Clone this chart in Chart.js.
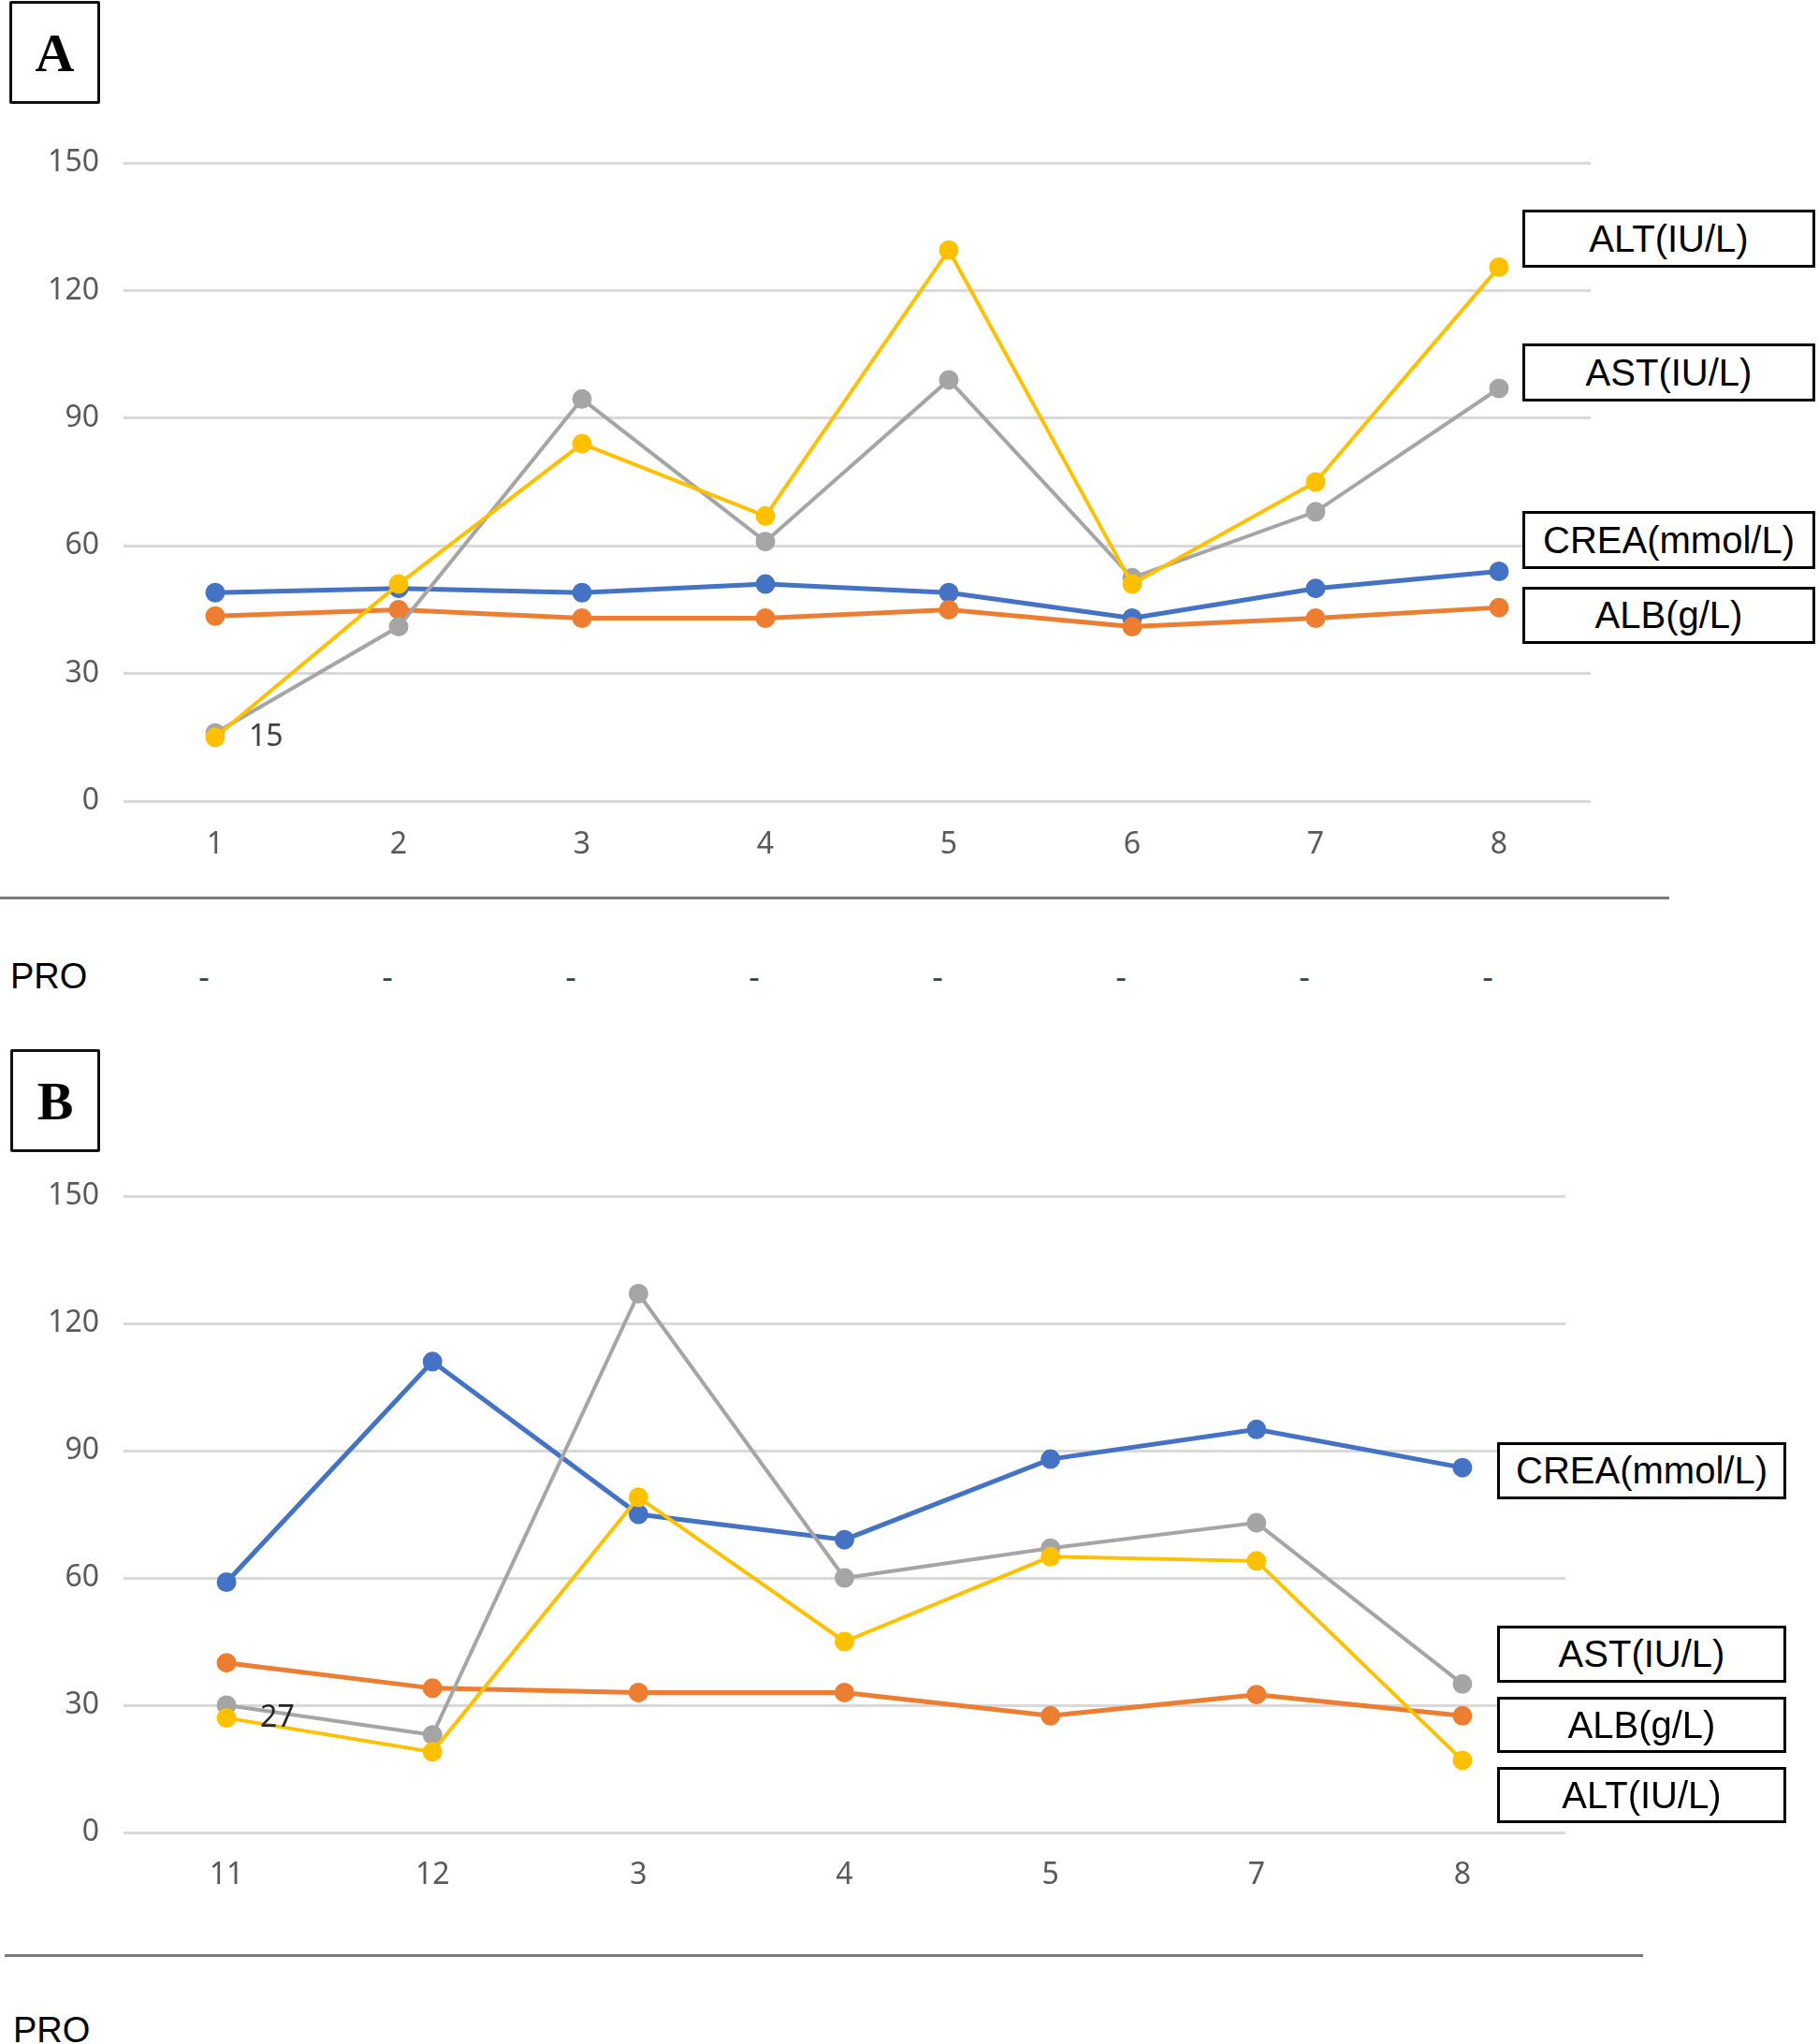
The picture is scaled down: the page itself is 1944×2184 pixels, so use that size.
<!DOCTYPE html>
<html>
<head>
<meta charset="utf-8">
<script src="https://cdn.jsdelivr.net/npm/chart.js@4.4.0/dist/chart.umd.min.js"></script>
<style>
  body { margin: 0; background: #fff; width: 1944px; height: 2184px; position: relative; overflow: hidden; }
  canvas { position: absolute; left: 0; }
  #chartA { top: 0; }
  #chartB { top: 1100px; }
  .tag { position: absolute; box-sizing: border-box; border: 3px solid #111; border-radius: 2px; background: #fff;
         font: bold 58px "Liberation Serif", serif; color: #000; display: flex; align-items: center; justify-content: center; }
  .leg { position: absolute; box-sizing: border-box; border: 3px solid #000; background: #fff; z-index: 2;
         font: 40px "Liberation Sans", Arial, sans-serif; color: #000; display: flex; align-items: center; justify-content: center; }
  .rule { position: absolute; height: 3px; background: #7a7a7a; }
  .pro { position: absolute; font: 38px "Liberation Sans", Arial, sans-serif; color: #000; line-height: 1; }
  .dash { position: absolute; font: 36px "Noto Sans", sans-serif; color: #404040; line-height: 1; transform: translate(-50%, -50%); }
</style>
</head>
<body>
<canvas id="chartA" width="1944" height="960"></canvas>
<canvas id="chartB" width="1944" height="1000"></canvas>

<div class="tag" style="left:10px;top:1px;width:97px;height:110px;">A</div>
<div class="tag" style="left:11px;top:1121px;width:96px;height:110px;">B</div>

<!-- series labels, panel A -->
<div class="leg" style="left:1627px;top:224px;width:313px;height:62px;">ALT(IU/L)</div>
<div class="leg" style="left:1627px;top:367px;width:313px;height:62px;">AST(IU/L)</div>
<div class="leg" style="left:1627px;top:546px;width:313px;height:62px;">CREA(mmol/L)</div>
<div class="leg" style="left:1627px;top:627px;width:313px;height:61px;">ALB(g/L)</div>

<!-- series labels, panel B -->
<div class="leg" style="left:1600px;top:1541px;width:309px;height:61px;">CREA(mmol/L)</div>
<div class="leg" style="left:1600px;top:1737px;width:309px;height:61px;">AST(IU/L)</div>
<div class="leg" style="left:1600px;top:1813px;width:309px;height:60px;">ALB(g/L)</div>
<div class="leg" style="left:1600px;top:1888px;width:309px;height:60px;">ALT(IU/L)</div>

<div class="rule" style="left:0;top:958px;width:1784px;"></div>
<div class="pro" style="left:11px;top:1024px;">PRO</div>
<div class="rule" style="left:5px;top:2088px;width:1751px;"></div>
<div class="pro" style="left:14px;top:2150px;">PRO</div>

<script>
// --- Panel A data ---
const catsA = ['1', '2', '3', '4', '5', '6', '7', '8'];
const creaA = [49, 50, 49, 51, 49, 43, 50, 54];
const albA  = [43.5, 45, 43, 43, 45, 41, 43, 45.5];
const astA  = [16, 41, 94.5, 61, 99, 52.5, 68, 97];
const altA  = [15, 51, 84, 67, 129.5, 51, 75, 125.5];
const proA  = ['-', '-', '-', '-', '-', '-', '-', '-'];

// --- Panel B data ---
const catsB = ['11', '12', '3', '4', '5', '7', '8'];
const creaB = [59, 111, 75, 69, 88, 95, 86];
const albB  = [40, 34, 33, 33, 27.5, 32.5, 27.5];
const astB  = [30, 23, 127, 60, 67, 73, 35];
const altB  = [27, 19, 79, 45, 65, 64, 17];
const proB  = [];

// shared y axis
const yMin = 0, yMax = 150, yStep = 30;

const COLORS = { crea: '#4472C4', alb: '#ED7D31', ast: '#A5A5A5', alt: '#FFC000' };
const TICK_FONT = { family: '"Noto Sans", sans-serif', size: 32 };

// draws the value next to one point (Excel style data label)
const valueLabel = {
    id: 'valueLabel',
    afterDatasetsDraw(chart, args, opts) {
        if (opts.dataset == null) return;
        const pt = chart.getDatasetMeta(opts.dataset).data[opts.index];
        const ctx = chart.ctx;
        ctx.save();
        ctx.font = '32px "Noto Sans", sans-serif';
        ctx.fillStyle = opts.color || '#404040';
        ctx.textAlign = 'left';
        ctx.textBaseline = 'middle';
        ctx.fillText(String(chart.data.datasets[opts.dataset].data[opts.index]), pt.x + 36, pt.y);
        ctx.restore();
    }
};

function series(label, data, color, width) {
    return {
        label: label, data: data,
        borderColor: color, backgroundColor: color,
        borderWidth: width,
        pointRadius: 9, pointBorderWidth: 3,
        pointBackgroundColor: color, pointBorderColor: color,
        tension: 0
    };
}

function makeChart(id, cats, crea, alb, ast, alt, pad, xPad, labelColor) {
    // first dataset is drawn on top, so ALT goes first
    return new Chart(document.getElementById(id), {
        type: 'line',
        data: {
            labels: cats,
            datasets: [
                series('ALT(IU/L)', alt, COLORS.alt, 4),
                series('AST(IU/L)', ast, COLORS.ast, 4),
                series('ALB(g/L)', alb, COLORS.alb, 5),
                series('CREA(mmol/L)', crea, COLORS.crea, 5)
            ]
        },
        plugins: [valueLabel],
        options: {
            responsive: false,
            animation: false,
            devicePixelRatio: 1,
            layout: { padding: pad },
            plugins: {
                legend: { display: false },
                tooltip: { enabled: false },
                valueLabel: { dataset: 0, index: 0, color: labelColor }
            },
            scales: {
                x: {
                    offset: true,
                    grid: { display: false, drawTicks: false },
                    border: { display: false },
                    ticks: { font: TICK_FONT, color: '#595959', padding: xPad, maxRotation: 0, autoSkip: false },
                    afterFit: (s) => { s.height = 80; }
                },
                y: {
                    min: yMin, max: yMax,
                    grid: { color: '#d9d9d9', lineWidth: 3, drawTicks: false },
                    border: { display: false },
                    ticks: { stepSize: yStep, font: TICK_FONT, color: '#595959', padding: 26 },
                    afterFit: (s) => { s.width = 132; }
                }
            }
        }
    });
}

const chartA = makeChart('chartA', catsA, creaA, albA, astA, altA,
    { top: 174, bottom: 24, left: 0, right: 244 }, 28, '#404040');
const chartB = makeChart('chartB', catsB, creaB, albB, astB, altB,
    { top: 178, bottom: 62, left: 0, right: 271 }, 27, '#262626');

// PRO row: one mark under each visit, lined up with the x scale
function proRow(chart, values, top) {
    values.forEach((v, i) => {
        const el = document.createElement('div');
        el.className = 'dash';
        el.textContent = v;
        el.style.left = (chart.scales.x.getPixelForValue(i) - 12) + 'px';
        el.style.top = top + 'px';
        document.body.appendChild(el);
    });
}
proRow(chartA, proA, 1043);
proRow(chartB, proB, 2165);
</script>
</body>
</html>
